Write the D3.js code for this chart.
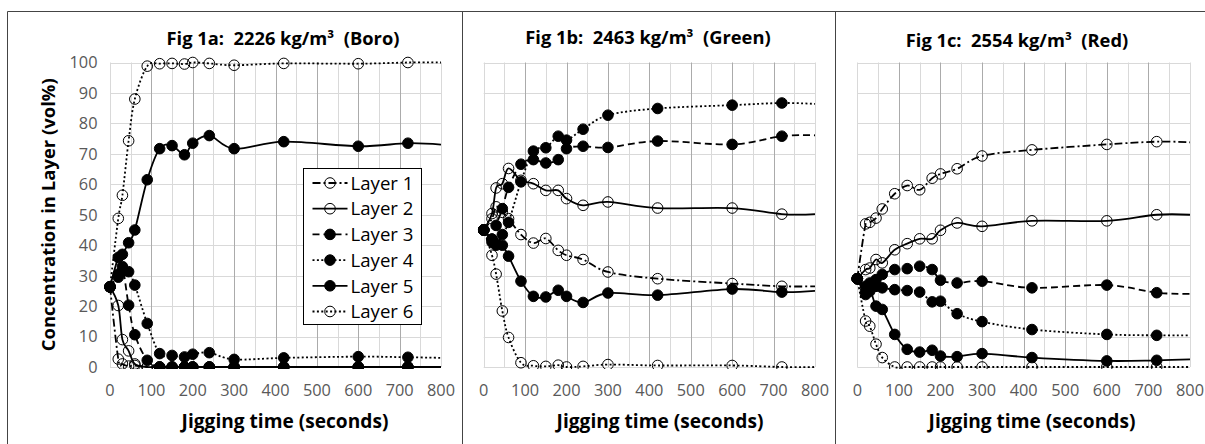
<!DOCTYPE html>
<html>
<head>
<meta charset="utf-8">
<script src="https://cdn.jsdelivr.net/npm/d3@7"></script>
<style>
body { margin: 0; background: #fff; }
svg text { font-family: "Open Sans", sans-serif; white-space: pre; }
</style>
</head>
<body>
<svg id="chart" width="1205" height="444"></svg>
<script>
// sample times (s) shared by every series
var times = [0, 20, 30, 45, 60, 90, 120, 150, 180, 200, 240, 300, 420, 600, 720];
var tailTime = 800;   // lines run on to the axis end with no marker
var layerNames = ["Layer 1", "Layer 2", "Layer 3", "Layer 4", "Layer 5", "Layer 6"];
var xTicks = [0, 100, 200, 300, 400, 500, 600, 700, 800];
var yTicks = [0, 10, 20, 30, 40, 50, 60, 70, 80, 90, 100];
var titles = ["Fig 1a:  2226 kg/m\u00b3  (Boro)", "Fig 1b:  2463 kg/m\u00b3  (Green)", "Fig 1c:  2554 kg/m\u00b3  (Red)"];

// Fig 1a - Boro
var boroL1 = [26.3, 2.6, 1.0, 0.3, 0.5, 0, 0, 0, 0, 0, 0, 0, 0, 0, 0];
var boroL2 = [26.3, 20.2, 9.0, 5.3, 1.0, 0, 0, 0, 0, 0, 0, 0, 0, 0, 0];
var boroL3 = [26.3, 30.5, 33.0, 20.3, 10.6, 2.2, 0, 0, 0, 0, 0, 0, 0, 0, 0];
var boroL4 = [26.3, 29.5, 31.5, 31.3, 26.9, 14.3, 4.4, 3.8, 3.3, 4.2, 4.7, 2.5, 3.0, 3.4, 3.2];
var boroL5 = [26.3, 36.0, 37.0, 40.8, 45.0, 61.5, 71.7, 72.7, 69.7, 73.5, 76.0, 71.7, 74.0, 72.5, 73.5];
var boroL6 = [26.3, 48.8, 56.4, 74.3, 88.0, 98.8, 99.6, 99.7, 99.5, 100, 99.7, 99.1, 99.7, 99.6, 100];
var boroTail = [0, 0, 0, 3.0, 73.0, 100];

// Fig 1b - Green
var greenL1 = [45, 48.7, 52.6, 50.8, 48.7, 43.5, 40.7, 42.2, 38.3, 36.7, 35.3, 31.2, 29.0, 27.4, 26.5];
var greenL2 = [45, 50.4, 58.8, 60.2, 65.2, 61.3, 60.2, 58.0, 58.0, 55.3, 53.1, 54.2, 52.2, 52.2, 50.2];
var greenL3 = [45, 42.0, 46.5, 52.0, 59.0, 66.6, 68.1, 67.0, 68.1, 71.7, 72.5, 72.1, 74.2, 73.1, 75.8];
var greenL4 = [45, 41.0, 40.0, 43.5, 47.5, 60.8, 70.9, 72.0, 75.8, 74.5, 78.1, 82.7, 84.9, 86.0, 86.7];
var greenL5 = [45, 42.0, 40.5, 40.0, 36.4, 28.2, 23.2, 23.0, 25.2, 23.2, 21.2, 24.3, 23.6, 25.6, 24.6];
var greenL6 = [45, 36.7, 30.5, 18.4, 9.7, 1.4, 0.4, 0.2, 0.6, 0, 0.2, 0.8, 0.5, 0.5, 0];
var greenTail = [26.5, 50.2, 76.1, 86.4, 25.0, 0];

// Fig 1c - Red
var redL1 = [29, 47.0, 47.5, 48.9, 51.9, 56.9, 59.6, 58.2, 62.0, 63.4, 65.1, 69.3, 71.3, 73.1, 74.0];
var redL2 = [29, 32.0, 32.5, 35.3, 34.2, 38.5, 40.5, 42.1, 42.1, 44.9, 47.3, 46.2, 48.0, 48.0, 50.0];
var redL3 = [29, 26.5, 27.6, 28.7, 30.4, 32.0, 32.3, 33.1, 32.0, 28.5, 27.6, 28.2, 26.0, 26.9, 24.4];
var redL4 = [29, 25.0, 24.9, 26.5, 26.0, 25.4, 25.1, 24.6, 21.4, 21.6, 17.5, 14.9, 12.3, 10.7, 10.4];
var redL5 = [29, 23.8, 25.5, 20.0, 18.9, 10.7, 5.8, 4.9, 5.5, 3.6, 3.4, 4.4, 3.1, 2.0, 2.2];
var redL6 = [29, 15.1, 13.4, 7.5, 3.1, 0, 0, 0, 0, 0, 0, 0, 0, 0, 0];
var redTail = [73.8, 50.0, 24.0, 10.4, 2.5, 0];

// line / marker look of each layer
var dashes = ["8,3,2,3", null, "7,4", "2,2.4", null, "2,2.4"];
var markerFill = ["none", "none", "#000", "#000", "#000", "none"];

var svg = d3.select("#chart");
var plotTop = 62.5, plotBottom = 367;

// pick a font size so that a sample string gets the width seen in the original
function sizeFor(str, weight, targetWidth) {
    var probe = svg.append("text").attr("font-size", 20).attr("font-weight", weight).text(str);
    var w = probe.node().getComputedTextLength();
    probe.remove();
    return w > 0 ? 20 * targetWidth / w : 16;
}
var titleSize = sizeFor(titles[0], "bold", 233);
var xTitleSize = sizeFor("Jigging time (seconds)", "bold", 207);
var yTitleSize = sizeFor("Concentration in Layer (vol%)", "bold", 273);
var tickSize = sizeFor("100", "normal", 28);
var legendSize = sizeFor("Layer 1", "normal", 63);

var panels = [
    { title: titles[0], series: [boroL1, boroL2, boroL3, boroL4, boroL5, boroL6], tail: boroTail,
      left: 110, right: 441, titleX: 283, titleY: 45, labelX: 285, yLabels: true },
    { title: titles[1], series: [greenL1, greenL2, greenL3, greenL4, greenL5, greenL6], tail: greenTail,
      left: 483.7, right: 815, titleX: 648, titleY: 43.5, labelX: 660, yLabels: false },
    { title: titles[2], series: [redL1, redL2, redL3, redL4, redL5, redL6], tail: redTail,
      left: 857.3, right: 1190, titleX: 1017, titleY: 46.5, labelX: 1032, yLabels: false }
];

// outer frames of the three charts
var frame = svg.append("g").attr("stroke", "#444").attr("stroke-width", 1).attr("fill", "none");
frame.append("line").attr("x1", 7.5).attr("x2", 1205).attr("y1", 11.5).attr("y2", 11.5);
[7.5, 462.5, 835.5].forEach(function(x) {
    frame.append("line").attr("x1", x).attr("x2", x).attr("y1", 11.5).attr("y2", 444);
});

var line = d3.line().curve(d3.curveCatmullRom.alpha(0));

panels.forEach(function(p, pi) {
    var x = d3.scaleLinear().domain([0, 800]).range([p.left, p.right]);
    var y = d3.scaleLinear().domain([0, 100]).range([plotBottom, plotTop]);
    var g = svg.append("g");

    // gridlines: minor every 50 s, major every 100 s, horizontal every 10
    var minorX = d3.range(0, 801, 50);
    g.append("g").selectAll("line").data(yTicks).enter().append("line")
        .attr("x1", p.left).attr("x2", p.right)
        .attr("y1", function(d) { return Math.round(y(d)) + 0.5; })
        .attr("y2", function(d) { return Math.round(y(d)) + 0.5; })
        .attr("stroke", "#d9d9d9");
    g.append("g").selectAll("line").data(minorX).enter().append("line")
        .attr("x1", function(d) { return Math.round(x(d)) + 0.5; })
        .attr("x2", function(d) { return Math.round(x(d)) + 0.5; })
        .attr("y1", plotTop).attr("y2", plotBottom)
        .attr("stroke", function(d) { return (d % 100 == 0 && d > 0 && d < 800) ? "#ababab" : "#d9d9d9"; });

    // tick labels
    g.append("g").selectAll("text").data(xTicks).enter().append("text")
        .attr("x", function(d) { return x(d); })
        .attr("y", 395.5)
        .attr("text-anchor", "middle")
        .attr("font-size", tickSize)
        .attr("fill", "#595959")
        .text(function(d) { return d; });
    if (p.yLabels) {
        g.append("g").selectAll("text").data(yTicks).enter().append("text")
            .attr("x", 97.5)
            .attr("y", function(d) { return y(d); })
            .attr("dy", "0.36em")
            .attr("text-anchor", "end")
            .attr("font-size", tickSize)
            .attr("fill", "#595959")
            .text(function(d) { return d; });
    }

    // titles
    g.append("text")
        .attr("x", p.titleX).attr("y", p.titleY)
        .attr("text-anchor", "middle")
        .attr("font-size", titleSize).attr("font-weight", "bold")
        .text(p.title);
    g.append("text")
        .attr("x", p.labelX).attr("y", 428)
        .attr("text-anchor", "middle")
        .attr("font-size", xTitleSize).attr("font-weight", "bold")
        .text("Jigging time (seconds)");

    // series
    var clipId = "clip" + pi;
    g.append("clipPath").attr("id", clipId).append("rect")
        .attr("x", p.left - 8).attr("y", plotTop - 8)
        .attr("width", p.right - p.left + 8).attr("height", plotBottom - plotTop + 10);

    p.series.forEach(function(vals, li) {
        var pts = times.map(function(t, i) { return [x(t), y(vals[i])]; });
        pts.push([x(tailTime), y(p.tail[li])]);
        var sg = g.append("g").attr("clip-path", "url(#" + clipId + ")");
        sg.append("path")
            .attr("d", line(pts))
            .attr("fill", "none")
            .attr("stroke", "#000")
            .attr("stroke-width", 1.8)
            .attr("stroke-dasharray", dashes[li]);
        sg.selectAll("circle").data(times).enter().append("circle")
            .attr("cx", function(t) { return x(t); })
            .attr("cy", function(t, i) { return y(vals[i]); })
            .attr("r", 5.3)
            .attr("fill", markerFill[li])
            .attr("stroke", "#000")
            .attr("stroke-width", 1);
    });
});

// y axis title
svg.append("text")
    .attr("transform", "translate(55," + ((plotTop + plotBottom) / 2) + ") rotate(-90)")
    .attr("text-anchor", "middle")
    .attr("font-size", yTitleSize).attr("font-weight", "bold")
    .text("Concentration in Layer (vol%)");

// legend (inside Fig 1a)
var leg = svg.append("g").attr("transform", "translate(303.5,168.5)");
leg.append("rect").attr("width", 118).attr("height", 156)
    .attr("fill", "#fff").attr("stroke", "#000").attr("stroke-width", 1);
var item = leg.selectAll("g.item").data(layerNames).enter().append("g")
    .attr("class", "item")
    .attr("transform", function(d, i) { return "translate(0," + (14.5 + i * 25.7) + ")"; });
item.append("line")
    .attr("x1", 9).attr("x2", 44)
    .attr("stroke", "#000").attr("stroke-width", 1.8)
    .attr("stroke-dasharray", function(d, i) { return dashes[i]; });
item.append("circle")
    .attr("cx", 26.5).attr("r", 5.3)
    .attr("fill", function(d, i) { return markerFill[i]; })
    .attr("stroke", "#000");
item.append("text")
    .attr("x", 47).attr("dy", "0.36em")
    .attr("font-size", legendSize)
    .text(function(d) { return d; });
</script>
</body>
</html>
